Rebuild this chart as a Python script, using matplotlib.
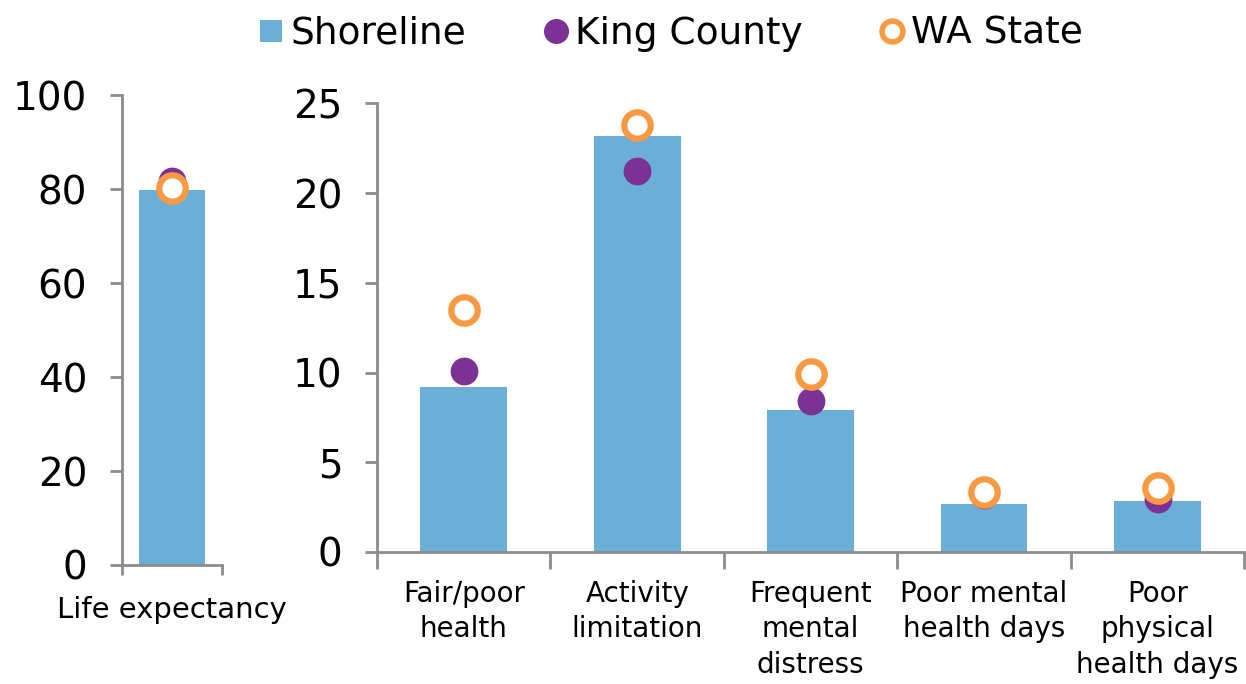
import matplotlib
matplotlib.use("Agg")
import matplotlib.pyplot as plt
from matplotlib.lines import Line2D
import numpy as np

plt.rcParams['font.family'] = ['DejaVu Sans']

life_label = ["Life expectancy"]
life_shoreline = [79.8]
life_king = [81.7]
life_wa = [80.2]

categories = ["Fair/poor\nhealth", "Activity\nlimitation", "Frequent\nmental\ndistress",
              "Poor mental\nhealth days", "Poor\nphysical\nhealth days"]
shoreline = [9.2, 23.15, 7.9, 2.65, 2.85]
king = [10.1, 21.2, 8.4, 3.2, 2.95]
wa = [13.5, 23.8, 9.9, 3.35, 3.55]

BLUE = "#6BAED6"
PURPLE = "#7B3294"
ORANGE = "#F99A43"
GREY = "#8C8C8C"

fig = plt.figure(figsize=(12.46, 6.84), dpi=100)
axL = fig.add_axes([0.0979, 0.174, 0.0803, 0.687])
axR = fig.add_axes([0.3026, 0.193, 0.696, 0.656])

def style(ax):
    for s in ["top", "right"]:
        ax.spines[s].set_visible(False)
    for s in ["left", "bottom"]:
        ax.spines[s].set_color(GREY)
        ax.spines[s].set_linewidth(2)
    ax.tick_params(axis='y', colors=GREY, labelcolor='black', labelsize=28, length=9, width=2, pad=16)
    ax.tick_params(axis='x', which='both', colors=GREY, labelcolor='black', length=0)

ms_k = 20
ms_w = 19
mew_w = 4.5

# Left panel
xl = np.arange(len(life_label))
axL.bar(xl, life_shoreline, width=0.65, color=BLUE, zorder=2)
axL.plot(xl, life_king, 'o', color=PURPLE, ms=ms_k, mew=0, zorder=3, clip_on=False)
axL.plot(xl, life_wa, 'o', mfc='white', mec=ORANGE, ms=ms_w, mew=mew_w, zorder=4, clip_on=False)
axL.set_xlim(-0.5, 0.5)
axL.set_ylim(0, 100)
axL.set_yticks([0, 20, 40, 60, 80, 100])
style(axL)
axL.set_xticks([-0.5, 0.5], minor=True)
axL.tick_params(axis='x', which='minor', length=7.5, width=2, colors=GREY)
axL.set_xticks([0])
axL.set_xticklabels(life_label, fontsize=21)
axL.tick_params(axis='x', which='major', pad=22, labelcolor='black')

# Right panel
x = np.arange(len(categories))
axR.bar(x, shoreline, width=0.5, color=BLUE, zorder=2)
axR.plot(x, king, 'o', color=PURPLE, ms=ms_k, mew=0, zorder=3, clip_on=False)
axR.plot(x, wa, 'o', mfc='white', mec=ORANGE, ms=ms_w, mew=mew_w, zorder=4, clip_on=False)
axR.set_xlim(-0.5, len(categories) - 0.5)
axR.set_ylim(0, 25)
axR.set_yticks([0, 5, 10, 15, 20, 25])
style(axR)
axR.set_xticks(np.arange(len(categories) + 1) - 0.5, minor=True)
axR.tick_params(axis='x', which='minor', length=12, width=2, colors=GREY)
axR.set_xticks(x)
axR.set_xticklabels(categories, fontsize=20, linespacing=1.35, va='top')
axR.tick_params(axis='x', which='major', pad=20, labelcolor='black')

handles = [
    Line2D([], [], marker='s', ls='none', color=BLUE, ms=16, mew=0),
    Line2D([], [], marker='o', ls='none', color=PURPLE, ms=18, mew=0),
    Line2D([], [], marker='o', ls='none', mfc='white', mec=ORANGE, ms=15, mew=4),
]
fig.legend(handles, ["Shoreline", "King County", "WA State"], loc='upper center',
           bbox_to_anchor=(0.536, 1.026), ncol=3, frameon=False, fontsize=27,
           handletextpad=0.0, columnspacing=1.9, handlelength=1.0)

fig.savefig("out.png", dpi=100)
